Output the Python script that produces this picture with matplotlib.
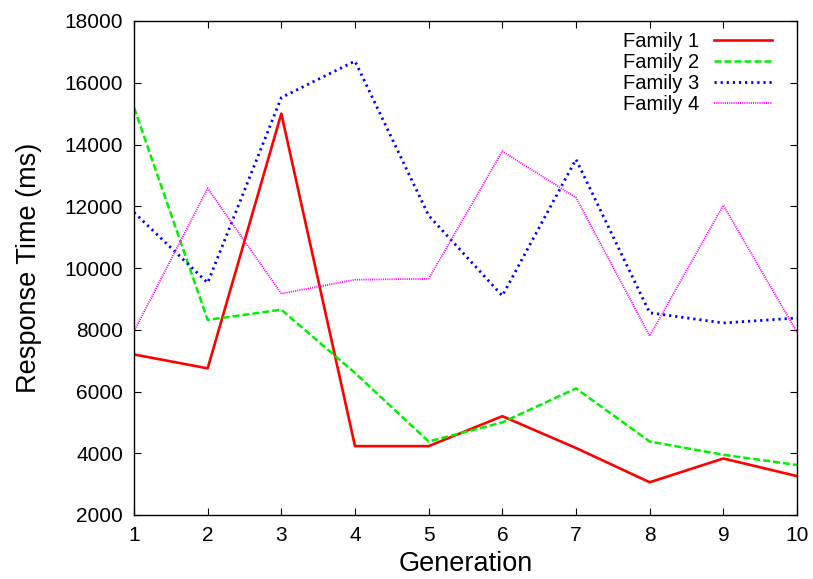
import matplotlib
matplotlib.use('Agg')
import matplotlib.pyplot as plt

plt.rcParams['font.family'] = ['Liberation Sans', 'DejaVu Sans']

generation = [1, 2, 3, 4, 5, 6, 7, 8, 9, 10]
family1 = [7200, 6750, 15000, 4230, 4230, 5200, 4170, 3060, 3830, 3260]
family2 = [15200, 8320, 8650, 6600, 4380, 5000, 6100, 4380, 3950, 3620]
family3 = [11800, 9520, 15520, 16700, 11700, 9100, 13520, 8550, 8220, 8380]
family4 = [7950, 12580, 9170, 9620, 9650, 13780, 12280, 7800, 12030, 7920]

fig = plt.figure(figsize=(8.13, 5.79), dpi=100)
ax = fig.add_axes([134/813, 1 - 515/579, (797-134)/813, (515-21)/579])

ax.plot(generation, family1, color='#ff0000', ls='-', lw=1.9, label='Family 1')
ax.plot(generation, family2, color='#00f000', ls=(0, (2.8, 1.2)), lw=1.8, label='Family 2')
ax.plot(generation, family3, color='#0000ff', ls=(0, (0.8, 1.4)), lw=2.0, label='Family 3')
ax.plot(generation, family4, color='#ff00ff', ls=(0, (0.6, 0.6)), lw=1.3, label='Family 4')

ax.set_xlim(1, 10)
ax.set_ylim(2000, 18000)
ax.set_xticks(generation)
ax.set_yticks(range(2000, 18001, 2000))
ax.tick_params(direction='in', top=True, right=True, length=5, labelsize=15)
ax.tick_params(axis='x', pad=8)
ax.tick_params(axis='y', pad=8)
for s in ax.spines.values():
    s.set_linewidth(1.0)
ax.set_xlabel('Generation', fontsize=19.5, labelpad=4)
ax.set_ylabel('Response Time (ms)', fontsize=19.5, labelpad=16)

ax.legend(loc='upper right', bbox_to_anchor=(0.962, 0.977), frameon=False,
          markerfirst=False, fontsize=14.5, handlelength=2.85, labelspacing=0.1,
          borderaxespad=0, borderpad=0, handletextpad=0.75)

fig.savefig('out.png', dpi=100)
